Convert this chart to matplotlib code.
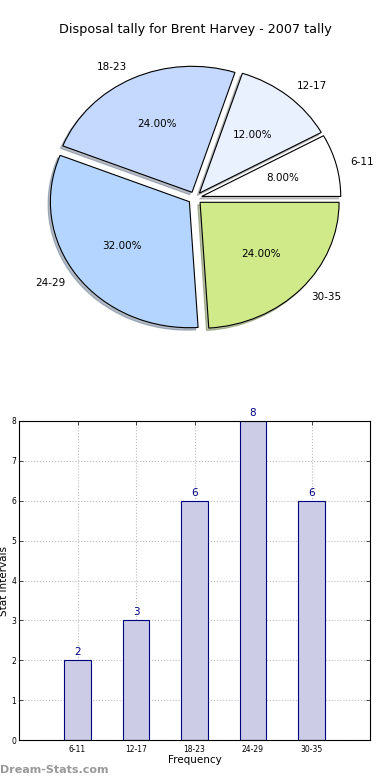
import matplotlib
matplotlib.use("Agg")
import matplotlib.pyplot as plt
import numpy as np

# data
groups = ["6-11", "12-17", "18-23", "24-29", "30-35"]
counts = [2, 3, 6, 8, 6]
pie_colors = ["#FFFFFF", "#EAF1FE", "#C5D9FE", "#B3D5FF", "#D0EA8A"]
title = "Disposal tally for Brent Harvey - 2007 tally"

fig = plt.figure(figsize=(3.9, 7.8), dpi=100)

########## pie ##########
W, H = 390.0, 780.0
cx, cy = 195.0, 198.0
rx, ry = 139.0, 126.0
lim = 1.3
axp = fig.add_axes([(cx - lim * rx) / W, 1 - (cy + lim * ry) / H,
                    2 * lim * rx / W, 2 * lim * ry / H])
axp.pie(counts, labels=groups, colors=pie_colors, explode=[0.05] * 5,
        autopct="%.2f%%", shadow=dict(ox=-0.012, oy=-0.014, shade=0.45),
        startangle=0,
        wedgeprops=dict(edgecolor="black", linewidth=0.8),
        textprops=dict(fontsize=7.5))
axp.set_aspect("auto")
axp.set_xlim(-lim, lim)
axp.set_ylim(-lim, lim)
axp.axis("off")
fig.text(0.5, 1 - 30 / H, title, ha="center", va="center", fontsize=9.2)

########## bars ##########
axb = fig.add_axes([19 / W, 1 - 740 / H, 351 / W, 319 / H])
x = np.arange(len(groups))
axb.bar(x, counts, width=0.45, color="#CCCCE6", edgecolor="#000080",
        linewidth=0.8, zorder=2)
for xi, c in zip(x, counts):
    axb.text(xi, c + 0.08, str(c), ha="center", va="bottom",
             color="#000080", fontsize=7.5)
axb.set_xlim(-1, 5)
axb.set_ylim(0, 8)
axb.set_xticks(x)
axb.set_xticklabels(groups, fontsize=5.5)
axb.set_yticks(range(9))
axb.tick_params(axis="y", labelsize=5.5, pad=2)
axb.tick_params(direction="in", top=True, right=True, length=3, width=0.5)
axb.grid(True, linestyle=":", color="#bbbbbb", linewidth=0.8, zorder=0)
axb.set_axisbelow(True)
axb.set_xlabel("Frequency", fontsize=7.5, labelpad=1)
axb.set_ylabel("Stat Intervals", fontsize=7.5, labelpad=2)

fig.text(0, 1 - 770 / H, "Dream-Stats.com", color="#999999",
         fontsize=8, fontweight="bold", ha="left", va="center")

fig.savefig("out.png", dpi=100)
